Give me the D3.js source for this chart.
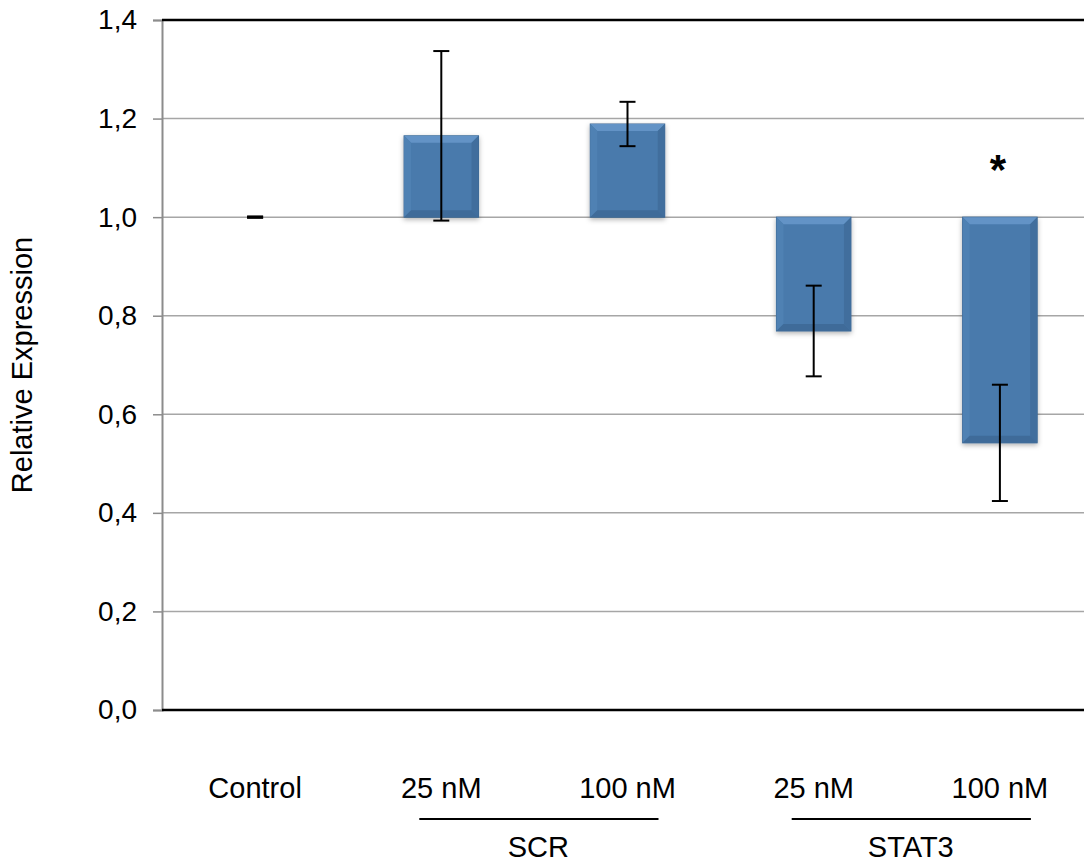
<!DOCTYPE html>
<html>
<head>
<meta charset="utf-8">
<script src="https://cdn.jsdelivr.net/npm/d3@7"></script>
<style>
  body { margin: 0; background: #fff; }
  svg { display: block; }
  text { font-family: "Liberation Sans", Arial, Helvetica, sans-serif; fill: #000; }
</style>
</head>
<body>
<div id="chart"></div>
<script>
// data
var categories = ["Control", "SCR 25", "SCR 100", "STAT3 25", "STAT3 100"];
var catLabels = ["Control", "25 nM", "100 nM", "25 nM", "100 nM"];
var values = [1.0, 1.165, 1.189, 0.769, 0.542];
var errors = [0.0, 0.172, 0.045, 0.092, 0.118];
var yTicks = [0, 0.2, 0.4, 0.6, 0.8, 1.0, 1.2, 1.4];
var groups = [
  {name: "SCR", from: "SCR 25", to: "SCR 100"},
  {name: "STAT3", from: "STAT3 25", to: "STAT3 100"}
];
var starred = ["STAT3 100"];
var baseValue = 1.0;

var W = 1084, H = 863;
var margin = {top: 20, right: -9, bottom: 153, left: 162},
    width = W - margin.left - margin.right,
    height = H - margin.top - margin.bottom;

var svg = d3.select("#chart")
  .append("svg")
    .attr("width", W)
    .attr("height", H);

var defs = svg.append("defs");
var f = defs.append("filter").attr("id", "shadow")
  .attr("x", "-20%").attr("y", "-20%").attr("width", "140%").attr("height", "140%");
f.append("feDropShadow")
  .attr("dx", 0).attr("dy", 2).attr("stdDeviation", 2.5)
  .attr("flood-color", "#000").attr("flood-opacity", 0.3);

var g = svg.append("g")
  .attr("transform", "translate(" + margin.left + "," + margin.top + ")");

var x = d3.scaleBand()
  .domain(categories)
  .range([0, width])
  .paddingInner(0.6)
  .paddingOuter(0.3);

var y = d3.scaleLinear()
  .domain([0, 1.4])
  .range([height, 0]);

// gridlines
g.append("g")
  .selectAll("line")
  .data(yTicks.filter(function(d){ return d > 0 && d < 1.4; }))
  .enter().append("line")
    .attr("x1", 0).attr("x2", width)
    .attr("y1", function(d){ return y(d); })
    .attr("y2", function(d){ return y(d); })
    .attr("stroke", "#a6a6a6")
    .attr("stroke-width", 1.5);

// y axis
var yAxis = g.append("g")
  .call(d3.axisLeft(y).tickValues(yTicks).tickSize(9).tickPadding(16)
    .tickFormat(function(d){ return d3.format(".1f")(d).replace(".", ","); }));
yAxis.select(".domain").attr("stroke", "#8c8c8c").attr("stroke-width", 2);
yAxis.selectAll(".tick line").attr("stroke", "#8c8c8c").attr("stroke-width", 1.5);
yAxis.selectAll(".tick text")
  .style("font-size", "28px")
  .style("font-family", "'Liberation Sans', Arial, sans-serif")
  .attr("fill", "#000");

// top border and bottom axis
g.append("line")
  .attr("x1", 0).attr("x2", width)
  .attr("y1", y(1.4)).attr("y2", y(1.4))
  .attr("stroke", "#000").attr("stroke-width", 2.5);
g.append("line")
  .attr("x1", 0).attr("x2", width)
  .attr("y1", y(0)).attr("y2", y(0))
  .attr("stroke", "#000").attr("stroke-width", 2.5);

// bars (floating from baseValue) with bevel
var data = categories.map(function(c, i) {
  return {cat: c, label: catLabels[i], value: values[i], err: errors[i]};
});

var bars = g.append("g")
  .selectAll("g")
  .data(data.filter(function(d){ return d.value !== baseValue; }))
  .enter().append("g");

bars.each(function(d) {
  var bx = x(d.cat), bw = x.bandwidth();
  var y0 = y(Math.max(d.value, baseValue)), y1 = y(Math.min(d.value, baseValue));
  var bh = y1 - y0, b = 7;
  var s = d3.select(this);
  s.append("rect")
    .attr("x", bx).attr("y", y0).attr("width", bw).attr("height", bh)
    .attr("fill", "#4a7aac")
    .attr("stroke", "#3b6591").attr("stroke-width", 1)
    .attr("filter", "url(#shadow)");
  var pts = function(a){ return a.map(function(p){ return p.join(","); }).join(" "); };
  // top bevel
  s.append("polygon").attr("points", pts([[bx, y0], [bx + bw, y0], [bx + bw - b, y0 + b], [bx + b, y0 + b]]))
    .attr("fill", "#6393c6");
  // left bevel
  s.append("polygon").attr("points", pts([[bx, y0], [bx + b, y0 + b], [bx + b, y1 - b], [bx, y1]]))
    .attr("fill", "#4f81b3");
  // right bevel
  s.append("polygon").attr("points", pts([[bx + bw, y0], [bx + bw, y1], [bx + bw - b, y1 - b], [bx + bw - b, y0 + b]]))
    .attr("fill", "#416e9d");
  // bottom bevel
  s.append("polygon").attr("points", pts([[bx, y1], [bx + b, y1 - b], [bx + bw - b, y1 - b], [bx + bw, y1]]))
    .attr("fill", "#3f6b99");
});

// error bars
var eb = g.append("g")
  .selectAll("g")
  .data(data)
  .enter().append("g")
  .attr("stroke", "#000");
eb.append("line")
  .attr("x1", function(d){ return x(d.cat) + x.bandwidth() / 2; })
  .attr("x2", function(d){ return x(d.cat) + x.bandwidth() / 2; })
  .attr("y1", function(d){ return y(d.value + d.err); })
  .attr("y2", function(d){ return y(d.value - d.err); })
  .attr("stroke-width", 2);
[1, -1].forEach(function(sgn) {
  eb.append("line")
    .attr("x1", function(d){ return x(d.cat) + x.bandwidth() / 2 - 8; })
    .attr("x2", function(d){ return x(d.cat) + x.bandwidth() / 2 + 8; })
    .attr("y1", function(d){ return y(d.value + sgn * d.err); })
    .attr("y2", function(d){ return y(d.value + sgn * d.err); })
    .attr("stroke-width", function(d){ return d.err === 0 ? 3 : 2; });
});

// significance marker
g.append("g")
  .selectAll("text")
  .data(starred)
  .enter().append("text")
    .attr("x", function(d){ return x(d) + x.bandwidth() / 2 - 2; })
    .attr("y", y(1.4) + 164)
    .attr("text-anchor", "middle")
    .style("font-size", "42px")
    .style("font-weight", "bold")
    .text("*");

// category labels
g.append("g")
  .selectAll("text")
  .data(data)
  .enter().append("text")
    .attr("x", function(d){ return x(d.cat) + x.bandwidth() / 2; })
    .attr("y", height + 88)
    .attr("text-anchor", "middle")
    .style("font-size", "29px")
    .text(function(d){ return d.label; });

// group brackets
var grp = g.append("g").selectAll("g").data(groups).enter().append("g");
grp.append("line")
  .attr("x1", function(d){ return x(d.from) + x.bandwidth() / 2 - 22; })
  .attr("x2", function(d){ return x(d.to) + x.bandwidth() / 2 + 31; })
  .attr("y1", height + 109).attr("y2", height + 109)
  .attr("stroke", "#000").attr("stroke-width", 2);
grp.append("text")
  .attr("x", function(d){ return (x(d.from) + x(d.to) + x.bandwidth()) / 2 + 4; })
  .attr("y", height + 147)
  .attr("text-anchor", "middle")
  .style("font-size", "29px")
  .text(function(d){ return d.name; });

// y axis title
svg.append("text")
  .attr("transform", "translate(32," + (margin.top + y(0.7)) + ") rotate(-90)")
  .attr("text-anchor", "middle")
  .style("font-size", "29px")
  .text("Relative Expression");
</script>
</body>
</html>
